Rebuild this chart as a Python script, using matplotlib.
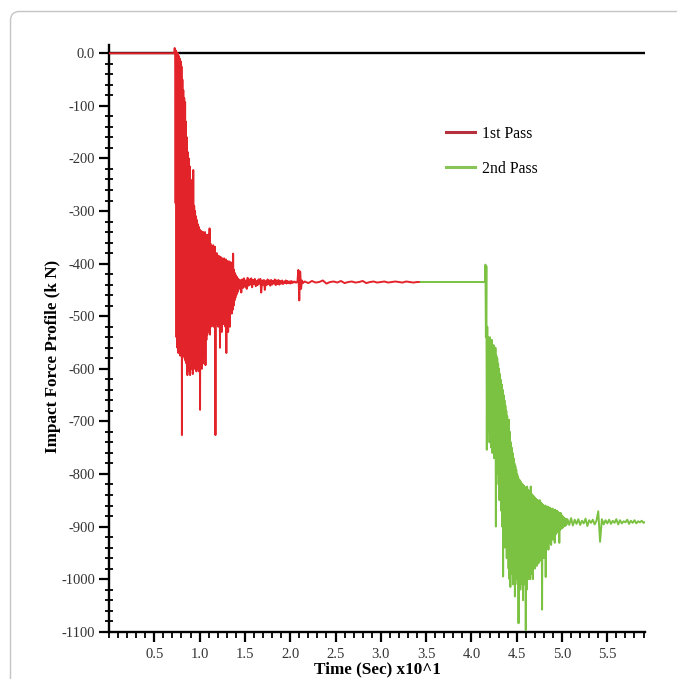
import matplotlib
matplotlib.use('Agg')
import matplotlib.pyplot as plt
import numpy as np
from matplotlib.ticker import MultipleLocator, FixedLocator, FixedFormatter
from matplotlib.patches import FancyBboxPatch
from matplotlib.transforms import IdentityTransform
from matplotlib.lines import Line2D

# ---------------- data ----------------
series_names = ["1st Pass", "2nd Pass"]

# 1st pass: flat start
red_pre_t = [0.0]
red_pre = [0.0]
# 1st pass: impact burst, sampled every 0.005 from t=0.72
red_burst_t0, red_burst_dt = 0.72, 0.005
red_burst = [0, 10, 0, -285,
             5, -540, 0, -560, 0, -570, -5, -560, -10, -575,
             -15, -565, -25, -726, -50, -570, -70, -575, -85, -580,
             -93, -585, -130, -590, -160, -612, -188, -600, -200, -605,
             -215, -612, -240, -595, -250, -600, -265, -610, -222, -590,
             -290, -600, -300, -595, -310, -605, -317, -590, -325, -600,
             -330, -605, -335, -678, -340, -595, -338, -600, -345, -590,
             -340, -575, -345, -560, -340, -593, -350, -545, -345, -535,
             -352, -530, -345, -528, -333, -535, -362, -520, -368, -518,
             -372, -515, -365, -520, -378, -512, -368, -726, -385, -515,
             -380, -510, -387, -520, -385, -515, -392, -560, -387, -510,
             -395, -530, -390, -505, -394, -515, -390, -500, -396, -520,
             -392, -570, -398, -500, -395, -530, -400, -495, -396, -520,
             -400, -490, -398, -495, -405, -488, -381, -480, -412, -470,
             -418, -465, -422, -460, -425, -456, -428, -452, -430, -448,
             -431, -445, -432, -440]
# 1st pass: settling, sampled every 0.01 from t=1.46
red_settle_t0, red_settle_dt = 1.46, 0.01
red_settle = [-455, -430, -446, -428, -444, -432, -448, -427, -442, -430,
              -440, -428, -445, -431, -439, -429, -443, -433, -441, -430,
              -438, -429, -455, -432, -440, -431, -450, -433, -441, -430,
              -439, -432, -442, -431, -440, -433, -438, -430, -441, -432,
              -439, -431, -440, -433, -438, -432, -439, -434, -437, -432,
              -438, -433, -437, -434, -438, -433, -437, -434, -436, -434,
              -436, -436, -434, -412, -470, -415, -448, -432, -437]
# 1st pass: steady, sampled every 0.04 from t=2.16
red_steady_t0, red_steady_dt = 2.16, 0.04
red_steady = [-434, -437, -433, -436, -435, -432, -438, -435, -434, -436,
              -433, -437, -435, -434, -436, -435, -433, -437, -435, -434,
              -436, -435, -434, -436, -435, -434, -435, -436, -434, -435,
              -436, -435, -435]

# 2nd pass: flat start
green_flat_t = [3.44, 4.14]
green_flat = [-435, -435]
# 2nd pass: impact burst, sampled every 0.005 from t=4.15
green_burst_t0, green_burst_dt = 4.15, 0.005
green_burst = [-435, -402, -540, -405, -754, -520, -700, -540, -720, -545,
               -740, -540, -730, -550, -750, -545, -760, -560, -740, -555,
               -770, -565, -760, -560, -900, -575, -780, -580, -800, -590,
               -820, -600, -850, -610, -840, -621, -870, -630, -900, -640,
               -995, -650, -920, -660, -940, -670, -930, -680, -960, -690,
               -950, -700, -980, -697, -1000, -720, -1015, -740, -970, -750,
               -990, -760, -1010, -770, -980, -780, -1033, -785, -990, -792,
               -1000, -800, -1010, -805, -1084, -810, -1000, -812, -1020, -815,
               -990, -818, -1010, -820, -1040, -822, -1000, -824, -1010, -826,
               -1097, -828, -1020, -824, -990, -830, -1000, -832, -980, -835,
               -1000, -824, -990, -838, -985, -840, -1000, -842, -970, -845,
               -980, -846, -960, -848, -975, -850, -960, -850, -970, -852,
               -955, -850, -965, -854, -950, -856, -1058, -858, -950, -860,
               -960, -862, -945, -860, -996, -862, -940, -864, -935, -862,
               -944, -866, -930, -864, -925, -866, -935, -868, -920, -866,
               -925, -868, -918, -870, -931, -868, -915, -872, -912, -870,
               -910, -872, -908, -874, -931, -876, -906, -874, -904, -878,
               -903, -880, -902, -882, -900, -884, -899, -885, -898, -886,
               -896]
# 2nd pass: tail, sampled every 0.02 from t=5.06
green_tail_t0, green_tail_dt = 5.06, 0.02
green_tail = [-886, -897, -884, -898, -887, -895, -886, -897, -889, -894,
              -885, -899, -888, -893, -887, -896, -889, -871, -929, -886,
              -896, -888, -894, -887, -895, -889, -893, -886, -896, -888,
              -894, -890, -892, -887, -895, -889, -893, -888, -894, -890,
              -892, -889, -893, -891]

x_major = [0.5, 1.0, 1.5, 2.0, 2.5, 3.0, 3.5, 4.0, 4.5, 5.0, 5.5]
x_labels = ["0.5", "1.0", "1.5", "2.0", "2.5", "3.0", "3.5", "4.0", "4.5", "5.0", "5.5"]
y_major = [0, -100, -200, -300, -400, -500, -600, -700, -800, -900, -1000, -1100]
y_labels = ["0.0", "-100", "-200", "-300", "-400", "-500", "-600", "-700",
            "-800", "-900", "-1000", "-1100"]
x_label = "Time (Sec) x10^1"
y_label = "Impact Force Profile (k N)"


def grid(t0, dt, vals):
    return list(t0 + dt * np.arange(len(vals)))


red_t = red_pre_t + grid(red_burst_t0, red_burst_dt, red_burst) \
    + grid(red_settle_t0, red_settle_dt, red_settle) \
    + grid(red_steady_t0, red_steady_dt, red_steady)
red_y = red_pre + red_burst + red_settle + red_steady

green_t = [red_t[-1]] + green_flat_t + grid(green_burst_t0, green_burst_dt, green_burst) \
    + grid(green_tail_t0, green_tail_dt, green_tail)
green_y = [red_y[-1]] + green_flat + green_burst + green_tail

# ---------------- figure ----------------
plt.rcParams['font.family'] = ['Liberation Serif', 'DejaVu Serif']
plt.rcParams['axes.unicode_minus'] = False

fig = plt.figure(figsize=(6.77, 6.79), dpi=100)
fig.patch.set_facecolor('white')

border = FancyBboxPatch((10.5, -40), 740, 679 - 11.5 + 40,
                        boxstyle='round,pad=0,rounding_size=9',
                        transform=IdentityTransform(), fill=False,
                        ec='#c4c4c4', lw=1.0)
fig.add_artist(border)

ax = fig.add_axes([109 / 677, 47.3 / 679, 536 / 677, 586.3 / 679])

ax.axhline(0, color='black', lw=1.7, zorder=1)
l1, = ax.plot(red_t, red_y, color='#e3232a', lw=1.4, zorder=3)
l2, = ax.plot(green_t, green_y, color='#7bc142', lw=1.4, zorder=3)

ax.set_xlim(0, 5.916)
ax.set_ylim(-1100, 15)

for s in ['top', 'right']:
    ax.spines[s].set_visible(False)
for s in ['left', 'bottom']:
    ax.spines[s].set_linewidth(1.7)
    ax.spines[s].set_color('black')

ax.xaxis.set_major_locator(FixedLocator(x_major))
ax.xaxis.set_major_formatter(FixedFormatter(x_labels))
ax.xaxis.set_minor_locator(MultipleLocator(0.1))
ax.yaxis.set_major_locator(FixedLocator(y_major))
ax.yaxis.set_major_formatter(FixedFormatter(y_labels))
ax.yaxis.set_minor_locator(MultipleLocator(20))

ax.tick_params(axis='both', which='major', direction='out', length=7,
               width=1.6, labelsize=10.5, labelcolor='#333333', pad=3)
ax.tick_params(axis='x', which='major', pad=5)
ax.tick_params(axis='x', which='minor', direction='out', length=4, width=1.3)
ax.tick_params(axis='y', which='minor', direction='inout', length=6, width=1.3)

ax.set_xlabel(x_label, fontsize=12.3, fontweight='bold')
ax.xaxis.set_label_coords(0.5, -0.051)
ax.set_ylabel(y_label, fontsize=12.3, fontweight='bold')
ax.yaxis.set_label_coords(-0.090, 0.47)

handles = [Line2D([], [], color='#b5303c', lw=2.2),
           Line2D([], [], color='#88c556', lw=2.2)]
fig.legend(handles, series_names, loc='upper left',
           bbox_to_anchor=(446 / 677, 1 - 125.5 / 679), frameon=False,
           borderpad=0, borderaxespad=0, handlelength=1.85,
           handletextpad=0.43, labelspacing=1.23,
           prop=dict(family='Liberation Serif', size=11.3))

fig.savefig('out.png', dpi=100, facecolor='white')
